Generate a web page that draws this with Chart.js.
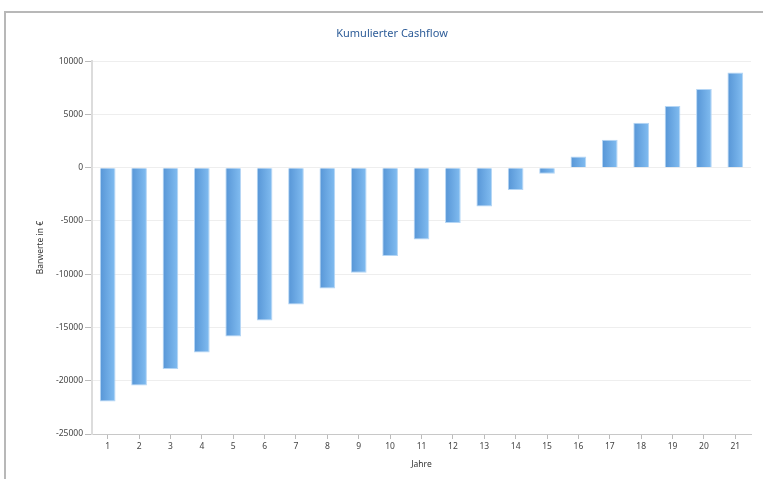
<!DOCTYPE html>
<html>
<head>
<meta charset="utf-8">
<script src="https://cdn.jsdelivr.net/npm/chart.js@4.4.1/dist/chart.umd.min.js"></script>
<style>
  html, body { margin: 0; padding: 0; background: #fff; }
  body { width: 763px; height: 479px; position: relative; overflow: hidden; }
  /* Rahmen oben und links wie im Original */
  #frame { position: absolute; left: 4px; top: 11px; width: 770px; height: 480px;
           border-top: 2px solid #b8b8b8; border-left: 2px solid #b8b8b8; box-sizing: border-box; }
  #wrap { position: absolute; left: 0; top: 0; width: 763px; height: 479px; }
</style>
</head>
<body>
<div id="frame"></div>
<div id="wrap"><canvas id="cashChart"></canvas></div>
<script>
// Daten: Jahre und kumulierter Cashflow (Barwerte in €)
const jahre = ['1','2','3','4','5','6','7','8','9','10','11','12','13','14','15','16','17','18','19','20','21'];
const barwerte = [-21950, -20450, -18900, -17350, -15850, -14350, -12850, -11350, -9850, -8300,
                  -6750, -5200, -3650, -2100, -560, 1050, 2630, 4230, 5800, 7400, 8950];
const yMin = -25000;
const yMax = 10000;
const yStep = 5000;

const tickFont = { family: 'Noto Sans', size: 8.5 };
const barPct = 0.5;

// Verlauf pro Balken von links (dunkler) nach rechts (heller)
const barGradient = (ctx) => {
    const chart = ctx.chart;
    const xs = chart.scales.x;
    if (!xs || !chart.chartArea) return '#6aa9e4';
    const x = xs.getPixelForValue(ctx.dataIndex);
    const w = (xs.width / jahre.length) * barPct;
    const g = chart.ctx.createLinearGradient(x - w / 2, 0, x + w / 2, 0);
    g.addColorStop(0, '#5695d6');
    g.addColorStop(1, '#82bdf1');
    return g;
};

new Chart(document.getElementById('cashChart'), {
    type: 'bar',
    data: {
        labels: jahre,
        datasets: [{
            data: barwerte,
            backgroundColor: barGradient,
            borderColor: '#b5d6f5',
            borderWidth: 1,
            barPercentage: barPct,
            categoryPercentage: 1
        }]
    },
    options: {
        responsive: true,
        maintainAspectRatio: false,
        animation: false,
        layout: { padding: { top: 27, left: 33, right: 12, bottom: 0 } },
        plugins: {
            legend: { display: false },
            tooltip: { enabled: false },
            title: {
                display: true,
                text: 'Kumulierter Cashflow',
                color: '#2d5c98',
                font: { family: 'Noto Sans', size: 11, weight: 'normal' },
                padding: { top: 0, bottom: 21 }
            }
        },
        scales: {
            x: {
                offset: true,
                grid: { display: true, drawOnChartArea: false, offset: false, tickLength: 5, tickColor: '#bbbbbb' },
                border: { color: '#c8c8c8', width: 1 },
                ticks: { color: '#444', font: tickFont, padding: 2, maxRotation: 0 },
                title: { display: true, text: 'Jahre', color: '#333', font: tickFont, padding: { top: 0, bottom: 9 } },
                afterFit: (s) => { s.height = 45; }
            },
            y: {
                min: yMin,
                max: yMax,
                grid: { color: '#eeeeee', tickLength: 7, tickColor: '#bbbbbb' },
                border: { color: '#dcdcdc', width: 2 },
                ticks: { stepSize: yStep, color: '#444', font: tickFont, padding: 2,
                         callback: (v) => String(v) },
                title: { display: true, text: 'Barwerte in €', color: '#333', font: tickFont, padding: { top: 2, bottom: 0 } },
                afterFit: (s) => { s.width = 59; }
            }
        }
    }
});
</script>
</body>
</html>
